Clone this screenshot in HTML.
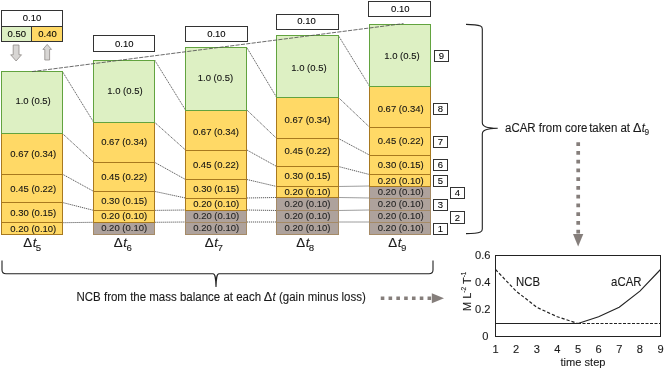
<!DOCTYPE html>
<html><head><meta charset="utf-8"><title>figure</title>
<style>
html,body{margin:0;padding:0;background:#fff;}
svg{display:block;font-family:"Liberation Sans",sans-serif;}
text{stroke:#1c1c1c;stroke-width:0.1px;}
rect{shape-rendering:crispEdges;}
</style></head><body>
<svg width="670" height="376" viewBox="0 0 670 376">
<rect width="670" height="376" fill="#fff"/>
<line x1="62.5" y1="71.7" x2="93.7" y2="122.3" stroke="#333" stroke-width="0.8" stroke-dasharray="1.2 0.8"/>
<line x1="62.5" y1="133.6" x2="93.7" y2="162.3" stroke="#333" stroke-width="0.8" stroke-dasharray="1.2 0.8"/>
<line x1="62.5" y1="174.2" x2="93.7" y2="191.4" stroke="#333" stroke-width="0.8" stroke-dasharray="1.2 0.8"/>
<line x1="62.5" y1="202.5" x2="93.7" y2="210.4" stroke="#333" stroke-width="0.8" stroke-dasharray="1.2 0.8"/>
<line x1="62.5" y1="222.7" x2="93.7" y2="222.3" stroke="#333" stroke-width="0.8" stroke-dasharray="1.2 0.8"/>
<line x1="154.6" y1="60" x2="185.5" y2="110" stroke="#333" stroke-width="0.8" stroke-dasharray="1.2 0.8"/>
<line x1="154.6" y1="122.3" x2="185.5" y2="150" stroke="#333" stroke-width="0.8" stroke-dasharray="1.2 0.8"/>
<line x1="154.6" y1="162.3" x2="185.5" y2="179.5" stroke="#333" stroke-width="0.8" stroke-dasharray="1.2 0.8"/>
<line x1="154.6" y1="191.4" x2="185.5" y2="198" stroke="#333" stroke-width="0.8" stroke-dasharray="1.2 0.8"/>
<line x1="154.6" y1="210.4" x2="185.5" y2="210" stroke="#333" stroke-width="0.8" stroke-dasharray="1.2 0.8"/>
<line x1="154.6" y1="222.3" x2="185.5" y2="222" stroke="#333" stroke-width="0.8" stroke-dasharray="1.2 0.8"/>
<line x1="246.9" y1="47.7" x2="276.7" y2="97.5" stroke="#333" stroke-width="0.8" stroke-dasharray="1.2 0.8"/>
<line x1="246.9" y1="110" x2="276.7" y2="138.5" stroke="#333" stroke-width="0.8" stroke-dasharray="1.2 0.8"/>
<line x1="246.9" y1="150" x2="276.7" y2="166.5" stroke="#333" stroke-width="0.8" stroke-dasharray="1.2 0.8"/>
<line x1="246.9" y1="179.5" x2="276.7" y2="186.5" stroke="#333" stroke-width="0.8" stroke-dasharray="1.2 0.8"/>
<line x1="246.9" y1="198" x2="276.7" y2="197.5" stroke="#333" stroke-width="0.8" stroke-dasharray="1.2 0.8"/>
<line x1="246.9" y1="210" x2="276.7" y2="210.5" stroke="#333" stroke-width="0.8" stroke-dasharray="1.2 0.8"/>
<line x1="246.9" y1="222" x2="276.7" y2="222" stroke="#333" stroke-width="0.8" stroke-dasharray="1.2 0.8"/>
<line x1="338.4" y1="35.6" x2="369.4" y2="86" stroke="#333" stroke-width="0.8" stroke-dasharray="1.2 0.8"/>
<line x1="338.4" y1="97.5" x2="369.4" y2="127" stroke="#333" stroke-width="0.8" stroke-dasharray="1.2 0.8"/>
<line x1="338.4" y1="138.5" x2="369.4" y2="155" stroke="#333" stroke-width="0.8" stroke-dasharray="1.2 0.8"/>
<line x1="338.4" y1="166.5" x2="369.4" y2="174.5" stroke="#333" stroke-width="0.8" stroke-dasharray="1.2 0.8"/>
<line x1="338.4" y1="186.5" x2="369.4" y2="186" stroke="#333" stroke-width="0.8" stroke-dasharray="1.2 0.8"/>
<line x1="338.4" y1="197.5" x2="369.4" y2="198" stroke="#333" stroke-width="0.8" stroke-dasharray="1.2 0.8"/>
<line x1="338.4" y1="210.5" x2="369.4" y2="210" stroke="#333" stroke-width="0.8" stroke-dasharray="1.2 0.8"/>
<line x1="338.4" y1="222" x2="369.4" y2="222" stroke="#333" stroke-width="0.8" stroke-dasharray="1.2 0.8"/>
<rect x="1.70" y="222.70" width="60.80" height="11.60" fill="#ffd966" stroke="#a8791f" stroke-width="1"/>
<text transform="translate(33.30 231.50) scale(1 1.05)" font-size="9.5" text-anchor="middle" fill="#111">0.20 (0.10)</text>
<rect x="1.70" y="202.50" width="60.80" height="20.20" fill="#ffd966" stroke="#a8791f" stroke-width="1"/>
<text transform="translate(33.30 215.60) scale(1 1.05)" font-size="9.5" text-anchor="middle" fill="#111">0.30 (0.15)</text>
<rect x="1.70" y="174.20" width="60.80" height="28.30" fill="#ffd966" stroke="#a8791f" stroke-width="1"/>
<text transform="translate(33.30 192.05) scale(1 1.05)" font-size="9.5" text-anchor="middle" fill="#111">0.45 (0.22)</text>
<rect x="1.70" y="133.60" width="60.80" height="40.60" fill="#ffd966" stroke="#a8791f" stroke-width="1"/>
<text transform="translate(33.20 156.60) scale(1 1.05)" font-size="9.5" text-anchor="middle" fill="#111">0.67 (0.34)</text>
<rect x="1.70" y="71.70" width="60.80" height="61.90" fill="#ddf0c3" stroke="#62a33f" stroke-width="1"/>
<text transform="translate(33.10 103.75) scale(1 1.05)" font-size="9.5" text-anchor="middle" fill="#111">1.0 (0.5)</text>
<text transform="translate(32.20 247.3)" font-size="13.3" text-anchor="middle" fill="#1a1a1a">Δ<tspan font-style="italic" dx="0.6">t</tspan><tspan font-size="9.7" dy="3.3" dx="-0.5">5</tspan></text>
<rect x="93.70" y="222.30" width="60.90" height="12.00" fill="#aea29c" stroke="#a58a66" stroke-width="1"/>
<text transform="translate(124.15 231.30) scale(1 1.05)" font-size="9.5" text-anchor="middle" fill="#262626">0.20 (0.10)</text>
<rect x="93.70" y="210.40" width="60.90" height="11.90" fill="#ffd966" stroke="#a8791f" stroke-width="1"/>
<text transform="translate(124.15 219.35) scale(1 1.05)" font-size="9.5" text-anchor="middle" fill="#111">0.20 (0.10)</text>
<rect x="93.70" y="191.40" width="60.90" height="19.00" fill="#ffd966" stroke="#a8791f" stroke-width="1"/>
<text transform="translate(124.15 203.90) scale(1 1.05)" font-size="9.5" text-anchor="middle" fill="#111">0.30 (0.15)</text>
<rect x="93.70" y="162.30" width="60.90" height="29.10" fill="#ffd966" stroke="#a8791f" stroke-width="1"/>
<text transform="translate(124.15 179.85) scale(1 1.05)" font-size="9.5" text-anchor="middle" fill="#111">0.45 (0.22)</text>
<rect x="93.70" y="122.30" width="60.90" height="40.00" fill="#ffd966" stroke="#a8791f" stroke-width="1"/>
<text transform="translate(124.15 145.30) scale(1 1.05)" font-size="9.5" text-anchor="middle" fill="#111">0.67 (0.34)</text>
<rect x="93.70" y="60.00" width="60.90" height="62.30" fill="#ddf0c3" stroke="#62a33f" stroke-width="1"/>
<text transform="translate(124.90 93.65) scale(1 1.05)" font-size="9.5" text-anchor="middle" fill="#111">1.0 (0.5)</text>
<text transform="translate(122.90 247.3)" font-size="13.3" text-anchor="middle" fill="#1a1a1a">Δ<tspan font-style="italic" dx="0.6">t</tspan><tspan font-size="9.7" dy="3.3" dx="-0.5">6</tspan></text>
<rect x="185.50" y="222.00" width="61.40" height="12.30" fill="#aea29c" stroke="#a58a66" stroke-width="1"/>
<text transform="translate(216.20 231.15) scale(1 1.05)" font-size="9.5" text-anchor="middle" fill="#262626">0.20 (0.10)</text>
<rect x="185.50" y="210.00" width="61.40" height="12.00" fill="#aea29c" stroke="#a58a66" stroke-width="1"/>
<text transform="translate(216.20 219.00) scale(1 1.05)" font-size="9.5" text-anchor="middle" fill="#262626">0.20 (0.10)</text>
<rect x="185.50" y="198.00" width="61.40" height="12.00" fill="#ffd966" stroke="#a8791f" stroke-width="1"/>
<text transform="translate(216.20 207.00) scale(1 1.05)" font-size="9.5" text-anchor="middle" fill="#111">0.20 (0.10)</text>
<rect x="185.50" y="179.50" width="61.40" height="18.50" fill="#ffd966" stroke="#a8791f" stroke-width="1"/>
<text transform="translate(216.20 191.75) scale(1 1.05)" font-size="9.5" text-anchor="middle" fill="#111">0.30 (0.15)</text>
<rect x="185.50" y="150.00" width="61.40" height="29.50" fill="#ffd966" stroke="#a8791f" stroke-width="1"/>
<text transform="translate(215.90 168.25) scale(1 1.05)" font-size="9.5" text-anchor="middle" fill="#111">0.45 (0.22)</text>
<rect x="185.50" y="110.00" width="61.40" height="40.00" fill="#ffd966" stroke="#a8791f" stroke-width="1"/>
<text transform="translate(215.90 135.00) scale(1 1.05)" font-size="9.5" text-anchor="middle" fill="#111">0.67 (0.34)</text>
<rect x="185.50" y="47.70" width="61.40" height="62.30" fill="#ddf0c3" stroke="#62a33f" stroke-width="1"/>
<text transform="translate(215.45 80.85) scale(1 1.05)" font-size="9.5" text-anchor="middle" fill="#111">1.0 (0.5)</text>
<text transform="translate(213.90 247.3)" font-size="13.3" text-anchor="middle" fill="#1a1a1a">Δ<tspan font-style="italic" dx="0.6">t</tspan><tspan font-size="9.7" dy="3.3" dx="-0.5">7</tspan></text>
<rect x="276.70" y="222.00" width="61.70" height="12.30" fill="#aea29c" stroke="#a58a66" stroke-width="1"/>
<text transform="translate(307.55 231.15) scale(1 1.05)" font-size="9.5" text-anchor="middle" fill="#262626">0.20 (0.10)</text>
<rect x="276.70" y="210.50" width="61.70" height="11.50" fill="#aea29c" stroke="#a58a66" stroke-width="1"/>
<text transform="translate(307.55 219.25) scale(1 1.05)" font-size="9.5" text-anchor="middle" fill="#262626">0.20 (0.10)</text>
<rect x="276.70" y="197.50" width="61.70" height="13.00" fill="#aea29c" stroke="#a58a66" stroke-width="1"/>
<text transform="translate(307.55 207.00) scale(1 1.05)" font-size="9.5" text-anchor="middle" fill="#262626">0.20 (0.10)</text>
<rect x="276.70" y="186.50" width="61.70" height="11.00" fill="#ffd966" stroke="#a8791f" stroke-width="1"/>
<text transform="translate(307.55 194.75) scale(1 1.05)" font-size="9.5" text-anchor="middle" fill="#111">0.20 (0.10)</text>
<rect x="276.70" y="166.50" width="61.70" height="20.00" fill="#ffd966" stroke="#a8791f" stroke-width="1"/>
<text transform="translate(307.55 178.50) scale(1 1.05)" font-size="9.5" text-anchor="middle" fill="#111">0.30 (0.15)</text>
<rect x="276.70" y="138.50" width="61.70" height="28.00" fill="#ffd966" stroke="#a8791f" stroke-width="1"/>
<text transform="translate(307.55 154.30) scale(1 1.05)" font-size="9.5" text-anchor="middle" fill="#111">0.45 (0.22)</text>
<rect x="276.70" y="97.50" width="61.70" height="41.00" fill="#ffd966" stroke="#a8791f" stroke-width="1"/>
<text transform="translate(307.55 122.75) scale(1 1.05)" font-size="9.5" text-anchor="middle" fill="#111">0.67 (0.34)</text>
<rect x="276.70" y="35.60" width="61.70" height="61.90" fill="#ddf0c3" stroke="#62a33f" stroke-width="1"/>
<text transform="translate(308.95 71.05) scale(1 1.05)" font-size="9.5" text-anchor="middle" fill="#111">1.0 (0.5)</text>
<text transform="translate(305.20 247.3)" font-size="13.3" text-anchor="middle" fill="#1a1a1a">Δ<tspan font-style="italic" dx="0.6">t</tspan><tspan font-size="9.7" dy="3.3" dx="-0.5">8</tspan></text>
<rect x="369.40" y="222.00" width="61.00" height="12.30" fill="#aea29c" stroke="#a58a66" stroke-width="1"/>
<text transform="translate(400.65 231.35) scale(1 1.05)" font-size="9.5" text-anchor="middle" fill="#262626">0.20 (0.10)</text>
<rect x="369.40" y="210.00" width="61.00" height="12.00" fill="#aea29c" stroke="#a58a66" stroke-width="1"/>
<text transform="translate(400.65 219.40) scale(1 1.05)" font-size="9.5" text-anchor="middle" fill="#262626">0.20 (0.10)</text>
<rect x="369.40" y="198.00" width="61.00" height="12.00" fill="#aea29c" stroke="#a58a66" stroke-width="1"/>
<text transform="translate(400.65 207.40) scale(1 1.05)" font-size="9.5" text-anchor="middle" fill="#262626">0.20 (0.10)</text>
<rect x="369.40" y="186.00" width="61.00" height="12.00" fill="#aea29c" stroke="#a58a66" stroke-width="1"/>
<text transform="translate(400.65 195.40) scale(1 1.05)" font-size="9.5" text-anchor="middle" fill="#262626">0.20 (0.10)</text>
<rect x="369.40" y="174.50" width="61.00" height="11.50" fill="#ffd966" stroke="#a8791f" stroke-width="1"/>
<text transform="translate(400.65 183.65) scale(1 1.05)" font-size="9.5" text-anchor="middle" fill="#111">0.20 (0.10)</text>
<rect x="369.40" y="155.00" width="61.00" height="19.50" fill="#ffd966" stroke="#a8791f" stroke-width="1"/>
<text transform="translate(400.65 167.75) scale(1 1.05)" font-size="9.5" text-anchor="middle" fill="#111">0.30 (0.15)</text>
<rect x="369.40" y="127.00" width="61.00" height="28.00" fill="#ffd966" stroke="#a8791f" stroke-width="1"/>
<text transform="translate(400.65 144.00) scale(1 1.05)" font-size="9.5" text-anchor="middle" fill="#111">0.45 (0.22)</text>
<rect x="369.40" y="86.00" width="61.00" height="41.00" fill="#ffd966" stroke="#a8791f" stroke-width="1"/>
<text transform="translate(400.65 112.25) scale(1 1.05)" font-size="9.5" text-anchor="middle" fill="#111">0.67 (0.34)</text>
<rect x="369.40" y="24.10" width="61.00" height="61.90" fill="#ddf0c3" stroke="#62a33f" stroke-width="1"/>
<text transform="translate(401.90 58.55) scale(1 1.05)" font-size="9.5" text-anchor="middle" fill="#111">1.0 (0.5)</text>
<text transform="translate(397.30 247.3)" font-size="13.3" text-anchor="middle" fill="#1a1a1a">Δ<tspan font-style="italic" dx="0.6">t</tspan><tspan font-size="9.7" dy="3.3" dx="-0.5">9</tspan></text>
<line x1="32" y1="71.6" x2="403.5" y2="23.6" stroke="#505050" stroke-width="0.85" stroke-dasharray="4.2 1.2"/>
<rect x="1.50" y="10.60" width="61.10" height="15.90" fill="#fff" stroke="#333" stroke-width="1.1"/>
<text transform="translate(32.05 21.45) scale(1 1.05)" font-size="9.5" text-anchor="middle" >0.10</text>
<rect x="93.70" y="35.90" width="61.20" height="15.20" fill="#fff" stroke="#333" stroke-width="1.1"/>
<text transform="translate(124.30 46.80) scale(1 1.05)" font-size="9.5" text-anchor="middle" >0.10</text>
<rect x="185.50" y="26.70" width="61.80" height="15.10" fill="#fff" stroke="#333" stroke-width="1.1"/>
<text transform="translate(216.40 37.45) scale(1 1.05)" font-size="9.5" text-anchor="middle" >0.10</text>
<rect x="276.70" y="14.40" width="62.10" height="15.40" fill="#fff" stroke="#333" stroke-width="1.1"/>
<text transform="translate(306.55 24.30) scale(1 1.05)" font-size="9.5" text-anchor="middle" >0.10</text>
<rect x="368.70" y="1.25" width="62.10" height="15.15" fill="#fff" stroke="#333" stroke-width="1.1"/>
<text transform="translate(400.35 11.92) scale(1 1.05)" font-size="9.5" text-anchor="middle" >0.10</text>
<rect x="1.50" y="26.50" width="30.00" height="15.30" fill="#ddf0c3" stroke="#333" stroke-width="1.1"/>
<text transform="translate(16.80 36.90) scale(1 1.05)" font-size="9.5" text-anchor="middle" >0.50</text>
<rect x="31.50" y="26.50" width="31.10" height="15.30" fill="#ffd966" stroke="#333" stroke-width="1.1"/>
<text transform="translate(47.50 36.90) scale(1 1.05)" font-size="9.5" text-anchor="middle" >0.40</text>
<path d="M13.2 45 h5.8 v9.8 h2.5 l-5.4 6.2 l-5.4 -6.2 h2.5 z" fill="#d8d6d4" stroke="#8f8a88" stroke-width="0.8"/>
<path d="M44.8 60 h4.8 v-10.6 h1.9 l-4.3 -5 l-4.3 5 h1.9 z" fill="#d8d6d4" stroke="#8f8a88" stroke-width="0.8"/>
<rect x="434.50" y="50.50" width="14.00" height="11.00" fill="#fff" stroke="#333" stroke-width="1"/>
<text transform="translate(441.50 59.30) scale(1 1.05)" font-size="9.5" text-anchor="middle" >9</text>
<rect x="433.50" y="103.50" width="14.00" height="11.00" fill="#fff" stroke="#333" stroke-width="1"/>
<text transform="translate(440.50 112.30) scale(1 1.05)" font-size="9.5" text-anchor="middle" >8</text>
<rect x="433.50" y="136.50" width="14.00" height="11.00" fill="#fff" stroke="#333" stroke-width="1"/>
<text transform="translate(440.50 145.30) scale(1 1.05)" font-size="9.5" text-anchor="middle" >7</text>
<rect x="433.50" y="159.50" width="14.00" height="10.50" fill="#fff" stroke="#333" stroke-width="1"/>
<text transform="translate(440.50 168.05) scale(1 1.05)" font-size="9.5" text-anchor="middle" >6</text>
<rect x="433.50" y="175.50" width="14.00" height="10.50" fill="#fff" stroke="#333" stroke-width="1"/>
<text transform="translate(440.50 184.05) scale(1 1.05)" font-size="9.5" text-anchor="middle" >5</text>
<rect x="450.50" y="187.50" width="14.00" height="11.00" fill="#fff" stroke="#333" stroke-width="1"/>
<text transform="translate(457.50 196.30) scale(1 1.05)" font-size="9.5" text-anchor="middle" >4</text>
<rect x="433.50" y="199.50" width="14.00" height="11.00" fill="#fff" stroke="#333" stroke-width="1"/>
<text transform="translate(440.50 208.30) scale(1 1.05)" font-size="9.5" text-anchor="middle" >3</text>
<rect x="450.50" y="211.50" width="14.00" height="11.50" fill="#fff" stroke="#333" stroke-width="1"/>
<text transform="translate(457.50 220.55) scale(1 1.05)" font-size="9.5" text-anchor="middle" >2</text>
<rect x="433.50" y="223.00" width="14.00" height="11.50" fill="#fff" stroke="#333" stroke-width="1"/>
<text transform="translate(440.50 232.05) scale(1 1.05)" font-size="9.5" text-anchor="middle" >1</text>
<path d="M466 24.4 C472 24.4 478 25 480.5 26 C481.8 26.5 482.3 27.3 482.3 29 L482.3 122.5 C482.3 127 487 127.8 497.7 128.3 C487 128.8 482.3 129.5 482.3 134 L482.3 229 C482.3 230.7 481.8 231.5 480.5 232 C478 233 472 233.6 466 233.6" fill="none" stroke="#222" stroke-width="1.1"/>
<path d="M2 260.5 L2 270 C2 272.8 3 273.7 6 273.7 L213 273.7 C215.3 273.7 215.8 278 216 287 C216.2 278 216.7 273.7 219 273.7 L429 273.7 C432 273.7 433 272.8 433 270 L433 260.5" fill="none" stroke="#222" stroke-width="1.1"/>
<text transform="translate(505 132) scale(1 1.05)" font-size="11.5" fill="#1a1a1a">aCAR from core<tspan dx="-1.4"> taken at </tspan><tspan font-size="12.6" dx="-0.3">Δ</tspan><tspan font-style="italic" dx="0.3">t</tspan><tspan font-size="8.3" dy="2.5" dx="-0.4">9</tspan></text>
<text transform="translate(76.5 301) scale(1 1.05)" font-size="11.5" fill="#1a1a1a">NCB from the mass balance at each<tspan dx="-0.5"> </tspan><tspan font-size="12.6">Δ</tspan><tspan font-style="italic" dx="0.4">t</tspan> (gain minus loss)</text>
<line x1="578.2" y1="142.2" x2="578.2" y2="234" stroke="#857e7b" stroke-width="3.7" stroke-dasharray="3.7 5.06"/>
<path d="M573 234 L583.3 234 L578.15 246.6 Z" fill="#857e7b"/>
<line x1="380.75" y1="298.3" x2="432" y2="298.3" stroke="#857e7b" stroke-width="3.6" stroke-dasharray="3.6 4.2"/>
<path d="M431.8 293.3 L431.8 303.3 L444 298.3 Z" fill="#857e7b"/>
<rect x="495.5" y="255.5" width="165.0" height="81.0" fill="#fff" stroke="#222" stroke-width="1"/>
<polyline points="495.5,269.5 516.1,291.1 536.8,307.3 557.4,316.8 578.0,323.5" fill="none" stroke="#222" stroke-width="1.2" stroke-dasharray="3.2 2"/>
<polyline points="660.5,269.5 639.9,291.1 619.2,307.3 598.6,316.8 578.0,323.5" fill="none" stroke="#222" stroke-width="1.1"/>
<line x1="495.5" y1="323.5" x2="578.0" y2="323.5" stroke="#222" stroke-width="1.1"/>
<line x1="578.0" y1="323.5" x2="660.5" y2="323.5" stroke="#222" stroke-width="1.2" stroke-dasharray="3 1.5"/>
<text transform="translate(490.50 258.80) scale(1 1.05)" font-size="11.1" text-anchor="end" fill="#1a1a1a">0.6</text>
<text transform="translate(490.50 285.80) scale(1 1.05)" font-size="11.1" text-anchor="end" fill="#1a1a1a">0.4</text>
<text transform="translate(490.50 312.80) scale(1 1.05)" font-size="11.1" text-anchor="end" fill="#1a1a1a">0.2</text>
<text transform="translate(488.40 339.80) scale(1 1.05)" font-size="11.1" text-anchor="end" fill="#1a1a1a">0</text>
<text transform="translate(495.50 353.00) scale(1 1.05)" font-size="11.1" text-anchor="middle" fill="#1a1a1a">1</text>
<text transform="translate(516.12 353.00) scale(1 1.05)" font-size="11.1" text-anchor="middle" fill="#1a1a1a">2</text>
<text transform="translate(536.75 353.00) scale(1 1.05)" font-size="11.1" text-anchor="middle" fill="#1a1a1a">3</text>
<text transform="translate(557.38 353.00) scale(1 1.05)" font-size="11.1" text-anchor="middle" fill="#1a1a1a">4</text>
<text transform="translate(578.00 353.00) scale(1 1.05)" font-size="11.1" text-anchor="middle" fill="#1a1a1a">5</text>
<text transform="translate(598.62 353.00) scale(1 1.05)" font-size="11.1" text-anchor="middle" fill="#1a1a1a">6</text>
<text transform="translate(619.25 353.00) scale(1 1.05)" font-size="11.1" text-anchor="middle" fill="#1a1a1a">7</text>
<text transform="translate(639.88 353.00) scale(1 1.05)" font-size="11.1" text-anchor="middle" fill="#1a1a1a">8</text>
<text transform="translate(660.50 353.00) scale(1 1.05)" font-size="11.1" text-anchor="middle" fill="#1a1a1a">9</text>
<text transform="translate(583.00 366.00) scale(1 1.05)" font-size="11.1" text-anchor="middle" fill="#1a1a1a">time step</text>
<text transform="translate(528.00 286.00) scale(1 1.05)" font-size="11.4" text-anchor="middle" fill="#1a1a1a">NCB</text>
<text transform="translate(626.30 286.00) scale(1 1.05)" font-size="11.4" text-anchor="middle" fill="#1a1a1a">aCAR</text>
<text transform="translate(470.5,311) rotate(-90) scale(1 1.05)" font-size="11" fill="#1a1a1a">M L<tspan font-size="6.5" dy="-4">-2</tspan><tspan dy="4"> T</tspan><tspan font-size="6.5" dy="-4">-1</tspan></text>
</svg>
</body></html>
